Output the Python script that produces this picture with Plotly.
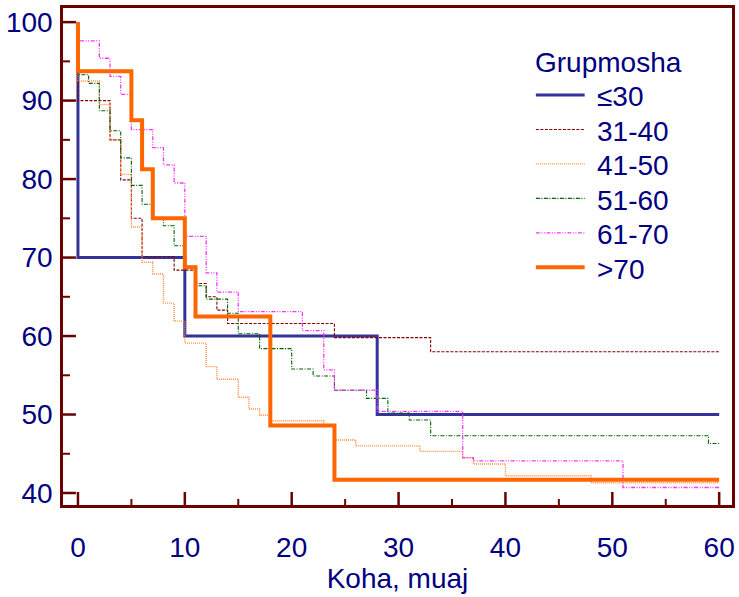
import plotly.graph_objects as go

# Kaplan-Meier style step data (time in months, survival in %)
groups = ["≤30", "31-40", "41-50", "51-60", "61-70", ">70"]
legend_title = "Grupmosha"
x_title = "Koha, muaj"

t_le30 = [0, 0, 10, 28, 60]
s_le30 = [100, 70, 60, 50, 50]

t_31_40 = [0, 0, 3, 4, 5, 6, 9, 11, 12, 13, 14, 24, 33, 60]
s_31_40 = [100, 90, 85.0, 79.9, 75.0, 70.1, 68.4, 66.7, 65.0, 63.3, 61.6, 59.8, 58.0, 58.0]

t_41_50 = [0, 0, 2, 3, 4, 5, 6, 7, 8, 9, 10, 12, 13, 15, 16, 17, 18, 23, 24, 26, 32, 36, 37, 40, 48, 60]
s_41_50 = [100, 92.5, 89.5, 85.0, 80.6, 73.9, 69.4, 67.9, 64.2, 61.9, 59.1, 56.1, 54.5, 52.2, 50.7,
           49.9, 49.2, 48.6, 46.75, 46.0, 45.3, 44.5, 43.7, 42.2, 41.3, 41.3]

t_51_60 = [0, 0, 1, 2, 3, 4, 5, 6, 7, 8, 9, 10, 11, 12, 14, 15, 17, 20, 22, 24, 27, 29, 31, 33, 59, 60]
s_51_60 = [100, 93.3, 92.2, 88.7, 86.15, 82.7, 79.2, 76.8, 75.0, 74.05, 71.5, 68.9, 66.4, 64.7, 62.9,
           60.3, 58.4, 55.8, 54.9, 53.1, 52.06, 50.2, 49.3, 47.3, 46.3, 46.3]

t_61_70 = [0, 0, 2, 3, 4, 5, 7, 8, 9, 10, 12, 13, 15, 21, 23, 24, 28, 36, 37, 51, 60]
s_61_70 = [100, 97.6, 95.4, 93.1, 90.8, 86.3, 84.0, 81.8, 79.5, 72.7, 68.06, 65.6, 63.1, 60.7, 55.7,
           53.1, 50.4, 44.5, 44.1, 40.7, 40.7]

t_gt70 = [0, 0, 5, 6, 7, 10, 11, 18, 24, 60]
s_gt70 = [100, 93.75, 87.5, 81.25, 75.0, 68.75, 62.5, 48.6, 41.7, 41.7]

x_ticks = [0, 10, 20, 30, 40, 50, 60]
x_minor = [5, 15, 25, 35, 45, 55]
y_ticks = [40, 50, 60, 70, 80, 90, 100]
y_minor = [45, 55, 65, 75, 85, 95]

styles = [
    dict(color="#333399", width=3, dash="solid"),
    dict(color="#800000", width=1.1, dash="3px,1.5px"),
    dict(color="#ff8a3d", width=1.4, dash="1px,1px"),
    dict(color="#006400", width=1.1, dash="4px,1.5px,1px,1.5px"),
    dict(color="#ff33ff", width=1.3, dash="4px,1.5px,1px,1.5px,1px,1.5px"),
    dict(color="#ff6600", width=4, dash="solid"),
]
data = [(t_le30, s_le30), (t_31_40, s_31_40), (t_41_50, s_41_50),
        (t_51_60, s_51_60), (t_61_70, s_61_70), (t_gt70, s_gt70)]

fig = go.Figure()
for name, (tx, sy), ln in zip(groups, data, styles):
    fig.add_trace(go.Scatter(x=tx, y=sy, mode="lines", name=name, line=ln, line_shape="hv"))

frame = "#6b0000"
navy = "#000080"
FONT = "Liberation Sans, Arial"
FS = 28

# plot area in pixels (for placing the hand-made legend and tick lengths)
L, R, T, B = 63, 735, 8, 505
W, H = R - L, B - T
def px(xp):
    return (xp - L) / W
def py(yp):
    return (B - yp) / H

# inward tick marks placed through the axes' own data scales
for v in x_ticks:
    fig.add_shape(type="line", xref="x", yref="paper", x0=v, x1=v, y0=0, y1=13 / H,
                  line=dict(color=frame, width=2.5))
for v in x_minor:
    fig.add_shape(type="line", xref="x", yref="paper", x0=v, x1=v, y0=0, y1=6 / H,
                  line=dict(color=frame, width=2))
for v in y_ticks:
    fig.add_shape(type="line", xref="paper", yref="y", x0=0, x1=13 / W, y0=v, y1=v,
                  line=dict(color=frame, width=2.5))
for v in y_minor:
    fig.add_shape(type="line", xref="paper", yref="y", x0=0, x1=7 / W, y0=v, y1=v,
                  line=dict(color=frame, width=2))

# legend (manual, to match the original's long line samples and spacing)
fig.add_annotation(x=px(535), y=py(62), xref="paper", yref="paper", text=legend_title,
                   showarrow=False, xanchor="left", yanchor="middle",
                   font=dict(family=FONT, size=FS, color=navy))
for i, (name, ln) in enumerate(zip(groups, styles)):
    ly = 95 + i * 34.45
    fig.add_shape(type="line", xref="paper", yref="paper",
                  x0=px(538), x1=px(587), y0=py(ly), y1=py(ly), line=ln)
    fig.add_annotation(x=px(597), y=py(ly + 2), xref="paper", yref="paper", text=name,
                       showarrow=False, xanchor="left", yanchor="middle",
                       font=dict(family=FONT, size=FS, color=navy))

tick_font = dict(family=FONT, size=FS, color=navy)

fig.update_layout(
    width=739, height=597,
    margin=dict(l=L, r=739 - R, t=T, b=597 - B),
    paper_bgcolor="white", plot_bgcolor="white",
    showlegend=False,
    xaxis=dict(
        range=[-1.4, 61.2], tickmode="array", tickvals=x_ticks, ticktext=[str(v) for v in x_ticks],
        showgrid=False, zeroline=False, ticks="",
        showline=True, mirror=True, linecolor=frame, linewidth=2.5,
        tickfont=tick_font, ticklabelstandoff=16,
        title=dict(text=x_title, font=dict(family=FONT, size=FS, color=navy), standoff=4),
    ),
    yaxis=dict(
        range=[38.47, 101.8], tickmode="array", tickvals=y_ticks, ticktext=[str(v) for v in y_ticks],
        showgrid=False, zeroline=False, ticks="",
        showline=True, mirror=True, linecolor=frame, linewidth=2.5,
        tickfont=tick_font, ticklabelstandoff=2,
    ),
)

fig.write_html("out.html")
